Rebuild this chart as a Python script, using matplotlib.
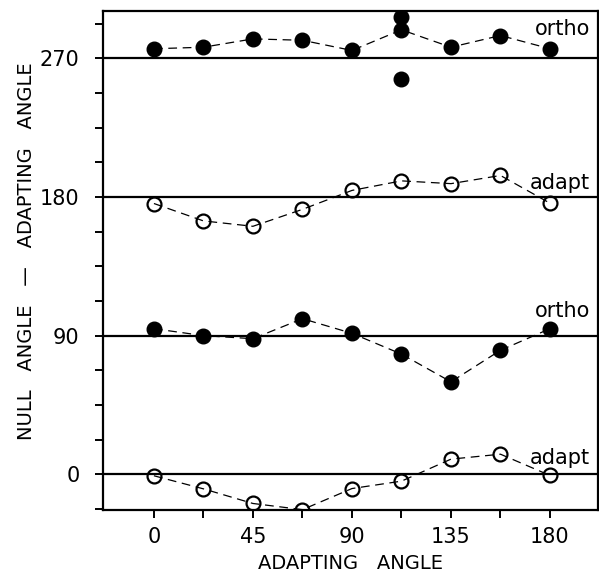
import matplotlib
matplotlib.use("Agg")
import matplotlib.pyplot as plt

# adapting angles (deg)
angles = [0, 22.5, 45, 67.5, 90, 112.5, 135, 157.5, 180]

# null angle - adapting angle
adapt_low = [-1, -9.5, -19, -23, -9.3, -4.5, 9.8, 13, -0.8]
ortho_low = [94.5, 90, 88, 101, 91.5, 78, 60, 80.5, 94.5]
adapt_high = [175.8, 164.5, 161, 172, 184.3, 190.5, 188.7, 194, 176]
ortho_high = [276.3, 277.3, 282.7, 281.8, 275.2, 288.6, 277.3, 284.9, 276.3]

# extra points at 112.5 that are not joined by the line
extra_x = [112.5, 112.5]
extra_y = [296.8, 256.8]

baselines = [0, 90, 180, 270]
names = ["ortho", "adapt", "ortho", "adapt"]
name_y = [285, 185.4, 102, 6.9]

fig = plt.figure(figsize=(5.99, 5.79), dpi=100)
ax = fig.add_axes([0.1725, 0.119, 0.8265, 0.8625])

for b in baselines:
    ax.axhline(b, color="black", lw=1.6, zorder=1)

dash = (0, (7, 4.5))
open_kw = dict(marker="o", ms=10, mfc="none", mec="black", mew=1.6,
               color="black", lw=0.9, ls=dash, zorder=3)
fill_kw = dict(marker="o", ms=10.5, mfc="black", mec="black",
               color="black", lw=0.9, ls=dash, zorder=3)

ax.plot(angles, adapt_low, **open_kw)
ax.plot(angles, ortho_low, **fill_kw)
ax.plot(angles, adapt_high, **open_kw)
ax.plot(angles, ortho_high, **fill_kw)
ax.plot(extra_x, extra_y, ls="none", marker="o", ms=10.5, color="black", zorder=3)

# series names at the right end
for n, y in zip(names, name_y):
    ax.text(198.3, y, n, ha="right", va="baseline", fontsize=15)

ax.set_xlim(-23, 202)
ax.set_ylim(-23.3, 301)

xt = [i * 22.5 for i in range(9)]
ax.set_xticks(xt)
ax.set_xticklabels([str(int(v)) if v % 45 == 0 else "" for v in xt], fontsize=15)
yt = [i * 22.5 for i in range(-1, 14)]
ax.set_yticks(yt)
ax.set_yticklabels([str(int(v)) if v % 90 == 0 else "" for v in yt], fontsize=15)
ax.tick_params(direction="out", length=6, width=1.4)
ax.tick_params(axis="x", pad=6)
ax.tick_params(axis="y", pad=11)

for s in ax.spines.values():
    s.set_linewidth(1.6)

ax.set_xlabel("ADAPTING   ANGLE", fontsize=14, labelpad=5)
fig.text(27 / 599, 1 - 251 / 579, "NULL   ANGLE   \u2014   ADAPTING   ANGLE",
         rotation=90, ha="center", va="center", fontsize=14)

fig.savefig("out.png", dpi=100)
